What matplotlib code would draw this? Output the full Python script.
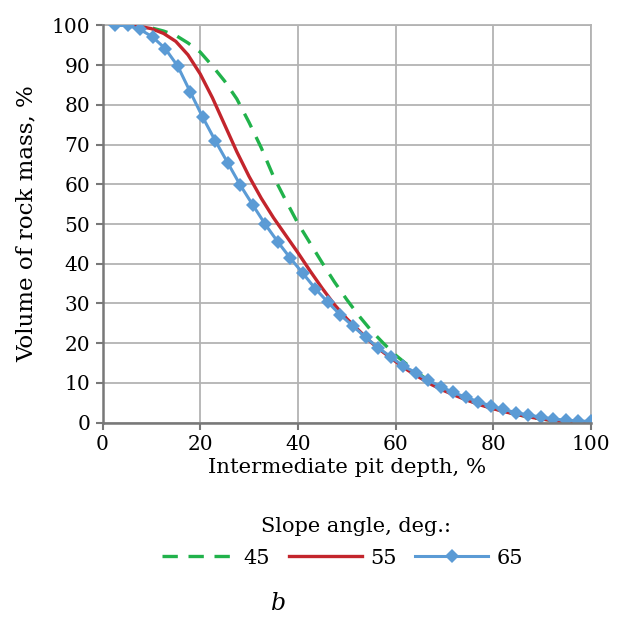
import numpy as np
import matplotlib
matplotlib.use("Agg")
import matplotlib.pyplot as plt

plt.rcParams['font.family'] = ['DejaVu Serif']

# Slope angle 45 deg (dashed)
x45 = [5, 7.5, 10, 12.5, 15, 17.5, 20, 22.5, 25, 27.5, 30, 32.5, 35, 37.5, 40,
       42.5, 45, 47.5, 50, 52.5, 55, 57.5, 60, 62.5, 65, 67.5, 70, 72.5, 75,
       77.5, 80, 82.5, 85, 87.5, 90, 92.5, 95, 97.5, 100]
y45 = [100, 100, 99.4, 98.6, 97.5, 95.6, 93.3, 89.8, 86.0, 81.5, 75.6, 69.2, 62.0,
       56.0, 50.2, 45.2, 40.2, 35.4, 31.0, 26.9, 23.2, 20.0, 17.0, 14.5, 12.1,
       10.0, 8.3, 6.8, 5.6, 4.5, 3.6, 2.8, 2.0, 1.4, 0.9, 0.5, 0.3, 0.1, 0.0]

# Slope angle 55 deg (solid)
x55 = x45
y55 = [100, 99.8, 99.2, 98.0, 96.0, 92.6, 87.8, 81.8, 75.0, 68.2, 62.0, 56.5, 51.6,
       47.2, 42.8, 38.2, 33.8, 29.7, 26.2, 23.2, 20.2, 17.7, 15.4, 13.2, 11.3,
       9.5, 8.0, 6.7, 5.5, 4.4, 3.5, 2.7, 2.0, 1.4, 0.9, 0.5, 0.3, 0.1, 0.0]

# Slope angle 65 deg (markers)
x65 = [100 * k / 39 for k in range(1, 40)]
y65 = [100, 100, 99.0, 97.1, 94.2, 89.8, 83.3, 76.9, 71.0, 65.4, 59.8, 54.8, 49.9,
       45.5, 41.4, 37.6, 33.7, 30.3, 27.1, 24.3, 21.5, 18.9, 16.6, 14.3, 12.6,
       10.7, 9.1, 7.6, 6.4, 5.3, 4.2, 3.4, 2.5, 1.9, 1.4, 0.9, 0.6, 0.4, 0.3]

labels = ["45", "55", "65"]
x_ticks = [0, 20, 40, 60, 80, 100]
y_ticks = list(range(0, 101, 10))

fig = plt.figure(figsize=(6.24, 6.17), dpi=100)
ax = fig.add_axes([0.1643, 0.315, 0.7827, 0.6437])

green = "#21B24B"
red = "#C3252C"
blue = "#5B9BD5"

ax.plot(x45, y45, color=green, lw=2.4, dashes=(4.6, 3.2), label=labels[0], zorder=3)
ax.plot(x55, y55, color=red, lw=2.4, label=labels[1], zorder=4)
ax.plot(x65, y65, color=blue, lw=2.2, marker="D", markersize=7.5,
        markeredgewidth=0, label=labels[2], zorder=5)

ax.set_xlim(0, 100)
ax.set_ylim(0, 100)
ax.set_xticks(x_ticks)
ax.set_yticks(y_ticks)
ax.grid(True, color="#b3b3b3", lw=1.3)
ax.set_axisbelow(True)

for side in ["top", "right"]:
    ax.spines[side].set_color("#b3b3b3")
    ax.spines[side].set_linewidth(1.3)
for side in ["left", "bottom"]:
    ax.spines[side].set_color("#787878")
    ax.spines[side].set_linewidth(1.8)
ax.spines["left"].set_zorder(6)
ax.spines["bottom"].set_zorder(6)

ax.tick_params(axis="both", direction="out", length=5, width=1.5, color="#787878",
               labelsize=14.5, pad=4)
ax.set_xlabel("Intermediate pit depth, %", fontsize=15.3, labelpad=3)
ax.set_ylabel("Volume of rock mass, %", fontsize=16.6, labelpad=10)

# legend entries, with the heading placed as its own text line above them
leg = fig.legend(loc="center", bbox_to_anchor=(0.549, 0.0956), ncol=3, frameon=False,
                 fontsize=15, handlelength=3.5, columnspacing=0.9,
                 handletextpad=0.4, borderaxespad=0, borderpad=0)
fig.text(356 / 624, 1 - 527 / 617, "Slope angle, deg.:", fontsize=15,
         ha="center", va="center")

fig.text(0.447, 1 - 604 / 617, "b", fontsize=17, style="italic", ha="center",
         va="center")

fig.savefig("out.png", dpi=100)
